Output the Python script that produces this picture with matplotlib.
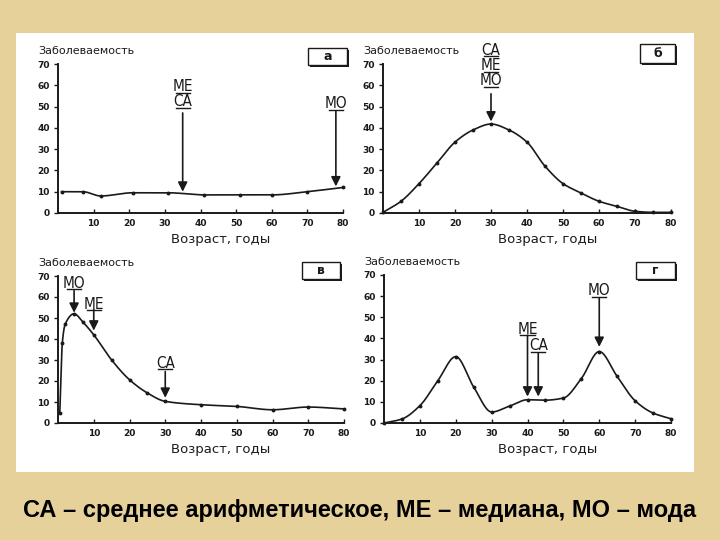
import numpy as np
import matplotlib
matplotlib.use("Agg")
import matplotlib.pyplot as plt
from matplotlib.patches import Rectangle
from matplotlib import font_manager

# --- data ----------------------------------------------------------------
age_a = [1, 7, 12, 21, 31, 41, 51, 60, 70, 80]
rate_a = [10, 10, 8, 9.5, 9.5, 8.5, 8.5, 8.5, 10, 12]

age_b = [0, 5, 10, 15, 20, 25, 30, 35, 40, 45, 50, 55, 60, 65, 70, 75, 80]
rate_b = [0.3, 5.5, 13.8, 23.5, 33.3, 39, 41.8, 39, 33.3, 22, 13.8, 9.4, 5.5, 3.1, 0.8, 0.3, 0.3]

age_c = [0.5, 1.2, 2, 4.5, 7, 10, 15, 20, 25, 30, 40, 50, 60, 70, 80]
rate_c = [5, 38, 47, 52, 48, 42, 30, 20.6, 14.3, 10.3, 8.7, 7.9, 6.3, 7.6, 6.7]

age_d = [0, 5, 10, 15, 20, 25, 30, 35, 40, 45, 50, 55, 60, 65, 70, 75, 80]
rate_d = [0, 1.9, 8.2, 20, 31.4, 17, 5.2, 8, 11, 10.8, 11.8, 21, 33.8, 22, 10.5, 4.7, 2]

panel_letters = ["а", "б", "в", "г"]

# (labels stacked top->bottom, x, top of text, arrow tail, arrow tip)
marks_a = [(["МЕ", "СА"], 35, 63, 47, 10), (["МО"], 78, 55, 48, 12.5)]
marks_b = [(["СА", "МЕ", "МО"], 30, 80, 56, 43)]
marks_c = [(["МО"], 4.5, 70, 63, 52.5), (["МЕ"], 10, 60, 54, 44), (["СА"], 30, 32, 24.5, 12)]
marks_d = [(["МО"], 60, 66, 59, 36), (["МЕ"], 40, 48, 41.5, 12.5), (["СА"], 43, 40, 33, 12.5)]

x_ticks = [10, 20, 30, 40, 50, 60, 70, 80]
y_ticks = [0, 10, 20, 30, 40, 50, 60, 70]

caption = "СА – среднее арифметическое, МЕ – медиана, МО – мода"
ylab = "Заболеваемость"
xlab = "Возраст, годы"


def pchip(x, y, xs):
    x = np.asarray(x, float)
    y = np.asarray(y, float)
    h = np.diff(x)
    d = np.diff(y) / h
    m = np.zeros_like(y)
    for k in range(1, len(x) - 1):
        if d[k - 1] * d[k] <= 0:
            m[k] = 0.0
        else:
            w1 = 2 * h[k] + h[k - 1]
            w2 = h[k] + 2 * h[k - 1]
            m[k] = (w1 + w2) / (w1 / d[k - 1] + w2 / d[k])
    m[0] = d[0]
    m[-1] = d[-1]
    idx = np.clip(np.searchsorted(x, xs) - 1, 0, len(x) - 2)
    t = (xs - x[idx]) / h[idx]
    h00 = 2 * t**3 - 3 * t**2 + 1
    h10 = t**3 - 2 * t**2 + t
    h01 = -2 * t**3 + 3 * t**2
    h11 = t**3 - t**2
    return h00 * y[idx] + h10 * h[idx] * m[idx] + h01 * y[idx + 1] + h11 * h[idx] * m[idx + 1]


names = {f.name for f in font_manager.fontManager.ttflist}
narrow = "Liberation Sans Narrow" if "Liberation Sans Narrow" in names else "DejaVu Sans"
ink = "#1a1a1a"

fig = plt.figure(figsize=(7.2, 5.4), dpi=100)
fig.patch.set_facecolor("#e7d19b")
fig.patches.append(Rectangle((16 / 720, 1 - 472 / 540), 678 / 720, 439 / 540,
                             transform=fig.transFigure, facecolor="white",
                             edgecolor="none", zorder=-5))

boxes = [
    ([58, 64, 343, 213], (308, 48, 347, 65)),
    ([383, 64, 671, 213], (640, 44, 675, 63)),
    ([58, 276, 344, 423], (302, 262, 340, 279)),
    ([384, 275, 671, 423], (636, 262, 675, 279)),
]
series = [(age_a, rate_a, marks_a), (age_b, rate_b, marks_b),
          (age_c, rate_c, marks_c), (age_d, rate_d, marks_d)]

for i, ((l, t, r, b), box) in enumerate(boxes):
    ax = fig.add_axes([l / 720, 1 - b / 540, (r - l) / 720, (b - t) / 540])
    ax.set_facecolor("none")
    age, rate, marks = series[i]
    xs = np.linspace(age[0], age[-1], 400)
    ax.plot(xs, pchip(age, rate, xs), color=ink, lw=1.2, clip_on=False)
    ax.plot(age, rate, "o", color=ink, ms=1.8, clip_on=False)
    ax.set_xlim(0, 80)
    ax.set_ylim(0, 70)
    for s in ["top", "right"]:
        ax.spines[s].set_visible(False)
    for s in ["left", "bottom"]:
        ax.spines[s].set_linewidth(1.4)
        ax.spines[s].set_color(ink)
    ax.set_xticks(x_ticks)
    ax.set_yticks(y_ticks)
    ax.tick_params(axis="x", direction="in", length=3, width=1, pad=4,
                   labelsize=6.5, colors=ink)
    ax.tick_params(axis="y", direction="out", length=3, width=1, pad=3,
                   labelsize=6.5, colors=ink)
    for lab in ax.get_xticklabels() + ax.get_yticklabels():
        lab.set_fontweight("bold")
    ax.text(-0.07, 1.09, ylab, transform=ax.transAxes, fontsize=8,
            ha="left", va="center", color=ink)
    ax.text(0.57, -0.18, xlab, transform=ax.transAxes, fontsize=9.5,
            ha="center", va="center", color=ink)

    for lines, x, top, tail, tip in marks:
        step = 7.2
        for j, txt in enumerate(lines):
            yt = top - j * step
            ax.text(x, yt, txt, ha="center", va="top", fontsize=11,
                    family=[narrow, "DejaVu Sans"], fontstretch="condensed",
                    color=ink, clip_on=False)
            ax.plot([x - 2.0, x + 2.0], [yt - step + 0.8] * 2, color=ink,
                    lw=1.0, clip_on=False)
        ax.annotate("", xy=(x, tip), xytext=(x, tail), annotation_clip=False,
                    arrowprops=dict(arrowstyle="-|>", color=ink, lw=1.2,
                                    mutation_scale=14, shrinkA=0, shrinkB=0))

    bx0, by0, bx1, by1 = box
    fig.patches.append(Rectangle((bx0 / 720 + 0.003, 1 - by1 / 540 - 0.004),
                                 (bx1 - bx0) / 720, (by1 - by0) / 540,
                                 transform=fig.transFigure, facecolor=ink,
                                 edgecolor="none", zorder=1))
    fig.patches.append(Rectangle((bx0 / 720, 1 - by1 / 540),
                                 (bx1 - bx0) / 720, (by1 - by0) / 540,
                                 transform=fig.transFigure, facecolor="white",
                                 edgecolor=ink, lw=1.0, zorder=2))
    fig.text((bx0 + bx1) / 2 / 720, 1 - (by0 + by1) / 2 / 540, panel_letters[i],
             ha="center", va="center", fontsize=9, fontweight="bold",
             color=ink, zorder=3)

fig.text(0.5, 1 - 510 / 540, caption, ha="center", va="center", fontsize=17,
         fontweight="bold", family=["Liberation Sans", "DejaVu Sans"], color="black")

fig.savefig("out.png", dpi=100, facecolor=fig.get_facecolor())
